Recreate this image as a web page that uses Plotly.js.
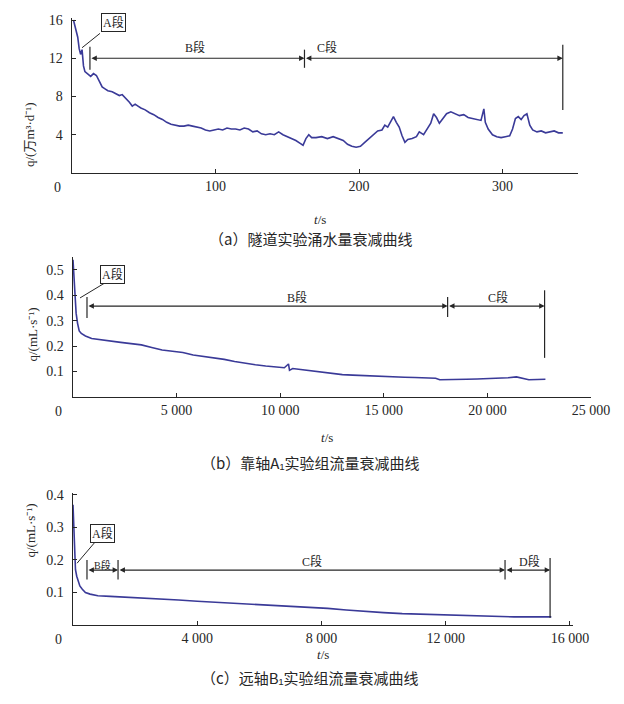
<!DOCTYPE html>
<html><head><meta charset="utf-8">
<script src="https://cdn.plot.ly/plotly-3.0.1.min.js"></script>
<style>html,body{margin:0;padding:0;background:#fff}#chart{width:624px;height:704px}</style>
</head><body><div id="chart"></div>
<script>
// ---- Panel (a): tunnel water inflow ----
const tA = [1,2,4,5,6,7,8,9,11,13,15,17,19,21,23,25,28,31,33,35,37,40,42,44,46,48,51,54,57,60,63,66,69,72,75,78,81,84,87,90,93,96,99,102,105,108,111,114,117,120,123,126,129,132,135,138,141,144,147,150,153,156,159,161,163,165,167,170,174,178,182,186,189,192,195,198,201,204,207,210,213,216,218,220,222,224,226,228,230,232,234,237,240,242,245,248,250,252,254,256,258,261,264,267,270,273,276,279,282,285,287,288,290,293,296,299,302,305,307,309,311,313,315,317,319,321,324,327,330,333,336,339,342];
const qA = [16.0,15.3,14.2,13.0,12.4,12.9,11.2,10.6,10.3,10.1,10.4,10.2,9.6,9.0,8.8,8.6,8.5,8.3,8.1,8.2,7.9,7.4,7.0,7.2,7.0,6.8,6.6,6.3,6.1,5.8,5.6,5.3,5.1,5.0,4.9,4.9,5.0,4.9,4.8,4.7,4.5,4.4,4.5,4.6,4.5,4.7,4.6,4.6,4.5,4.7,4.6,4.3,4.4,4.1,4.0,4.1,4.0,4.3,4.0,3.8,3.6,3.4,3.1,2.9,3.6,4.0,3.7,3.7,3.8,3.6,3.8,3.6,3.4,3.0,2.8,2.7,2.8,3.2,3.6,4.1,4.4,4.5,5.0,4.8,5.4,5.9,5.3,4.8,3.9,3.2,3.5,3.6,3.8,4.3,4.0,4.8,5.2,6.2,5.8,5.2,5.6,6.2,6.4,6.2,6.0,6.1,5.8,5.7,5.6,5.5,6.7,5.3,4.6,4.0,3.8,3.7,3.8,3.9,4.6,5.7,5.9,5.6,6.0,6.2,5.0,4.5,4.3,4.4,4.2,4.3,4.4,4.2,4.2];
const bA = [12.5, 162, 342];          // phase boundaries (t)
const segLabelsA = ["B段", "C段"];

// ---- Panel (b): A1 group flow ----
const tB = [0,30,60,100,150,220,300,400,600,900,1300,1800,2300,2800,3300,3800,4300,4800,5300,5800,6300,6800,7300,7800,8300,8800,9300,9800,10200,10400,10450,10600,11000,11500,12000,12500,13000,13500,14000,14500,15000,15500,16000,16500,17000,17500,17700,18000,18500,19000,19500,20000,20500,21000,21400,21700,22000,22400,22800];
const qB = [0.54,0.50,0.44,0.38,0.33,0.29,0.26,0.25,0.24,0.23,0.225,0.22,0.215,0.21,0.205,0.195,0.185,0.18,0.175,0.165,0.16,0.155,0.148,0.14,0.133,0.127,0.122,0.118,0.115,0.13,0.105,0.112,0.108,0.104,0.1,0.092,0.088,0.086,0.084,0.082,0.08,0.079,0.078,0.077,0.076,0.074,0.068,0.068,0.069,0.07,0.071,0.072,0.073,0.076,0.079,0.072,0.068,0.069,0.07];
const bB = [675, 18080, 22760];
const segLabelsB = ["B段", "C段"];

// ---- Panel (c): B1 group flow ----
const tC = [0,20,40,60,80,120,160,220,300,400,550,800,1200,1700,2200,2800,3400,4000,4600,5200,5800,6400,7000,7600,8200,8800,9400,10000,10600,11200,11800,12400,13000,13600,14200,14800,15400];
const qC = [0.37,0.30,0.24,0.20,0.17,0.15,0.135,0.12,0.11,0.10,0.095,0.09,0.088,0.086,0.084,0.08,0.077,0.073,0.07,0.068,0.065,0.062,0.059,0.055,0.051,0.046,0.041,0.038,0.035,0.033,0.031,0.029,0.027,0.026,0.025,0.025,0.025];
const bC = [450, 1450, 13910, 15360];
const segLabelsC = ["B段", "C段", "D段"];

const xTicksA = [100, 200, 300], yTicksA = [4, 8, 12, 16];
const xTicksB = [5000, 10000, 15000, 20000, 25000], yTicksB = [0.1, 0.2, 0.3, 0.4, 0.5];
const xTicksC = [4000, 8000, 12000, 16000], yTicksC = [0.1, 0.2, 0.3, 0.4];
const fmt = v => v >= 1000 ? String(v).replace(/(\d)(?=(\d{3})$)/, "$1 ") : String(v);

const captions = ["（a）隧道实验涌水量衰减曲线", "（b）靠轴A₁实验组流量衰减曲线", "（c）远轴B₁实验组流量衰减曲线"];
const yTitles = ["q/(万m³·d⁻¹)", "q/(mL·s⁻¹)", "q/(mL·s⁻¹)"];

const LINE = "#3a3a98", INK = "#262626";
const SERIF = "Liberation Serif, Noto Sans CJK SC, serif";
const CJK = "Noto Sans CJK SC, sans-serif";

function trace(x, y, xa, ya) {
  return {x, y, xaxis: xa, yaxis: ya, type: "scatter", mode: "lines",
          line: {color: LINE, width: 1.6}, hoverinfo: "skip", showlegend: false};
}
const data = [trace(tA, qA, "x", "y"), trace(tB, qB, "x2", "y2"), trace(tC, qC, "x3", "y3")];

function axis(domain, range, ticks, extra) {
  return Object.assign({
    domain, range, tickvals: ticks, ticktext: ticks.map(fmt),
    showline: true, linecolor: INK, linewidth: 1.4, mirror: false,
    ticks: "inside", ticklen: 4, tickcolor: INK, tickwidth: 1,
    showgrid: false, zeroline: false, fixedrange: true,
    tickfont: {family: SERIF, size: 14, color: INK}
  }, extra || {});
}

const layout = {
  width: 624, height: 704, margin: {l: 0, r: 0, t: 0, b: 0},
  paper_bgcolor: "#fff", plot_bgcolor: "#fff", showlegend: false,
  xaxis:  axis([72/624, 578/624], [0, 352.6], xTicksA, {anchor: "y"}),
  yaxis:  axis([1-173/704, 1-18/704], [0, 16.21], yTicksA, {anchor: "x", ticklabelstandoff: 5}),
  xaxis2: axis([73/624, 591/624], [0, 25000], xTicksB, {anchor: "y2"}),
  yaxis2: axis([1-397/704, 1-257/704], [0, 0.551], yTicksB, {anchor: "x2", ticklabelstandoff: 5}),
  xaxis3: axis([73/624, 573/624], [0, 16098], xTicksC, {anchor: "y3"}),
  yaxis3: axis([1-625/704, 1-493/704], [0, 0.406], yTicksC, {anchor: "x3", ticklabelstandoff: 5}),
  shapes: [], annotations: []
};

const S = layout.shapes, A = layout.annotations;
function vline(xr, yr, x, y0, y1) {
  S.push({type: "line", xref: xr, yref: yr, x0: x, x1: x, y0, y1, line: {color: INK, width: 1.2}});
}
function seg(xr, yr, x0, x1, y) {
  A.push({xref: xr, yref: yr, axref: xr, ayref: yr, x: x1, y, ax: x0, ay: y, text: "",
          showarrow: true, arrowside: "end+start", arrowhead: 2, arrowsize: 0.9, arrowwidth: 1.2, arrowcolor: INK});
}
function label(xr, yr, x, y, text, size) {
  A.push({xref: xr, yref: yr, x, y, text, showarrow: false, font: {family: SERIF, size: size || 12, color: INK}});
}
function boxLabel(xr, yr, x, y, text) {
  A.push({xref: xr, yref: yr, x, y, text, showarrow: false, bordercolor: INK, borderwidth: 1, borderpad: 1,
          bgcolor: "#fff", font: {family: SERIF, size: 12, color: INK}});
}
function leader(xr, yr, x0, y0, x1, y1) {
  S.push({type: "line", xref: xr, yref: yr, x0, y0, x1, y1, line: {color: INK, width: 1}});
}
function origin(xr, yr) {
  A.push({xref: xr, yref: yr, x: 0, y: 0, text: "0", showarrow: false, xanchor: "right", yanchor: "top",
          xshift: -9, yshift: -5, font: {family: SERIF, size: 14, color: INK}});
}

// Panel (a) annotations
origin("x", "y");
boxLabel("x", "y", 29, 15.7, "A段");
leader("x", "y", 7, 13.1, 19.5, 14.6);
vline("x", "y", bA[0], 10.8, 13.2);
vline("x", "y", bA[1], 11.0, 12.9);
vline("x", "y", bA[2], 6.6, 13.4);
seg("x", "y", bA[0], bA[1], 12.0);
seg("x", "y", bA[1], bA[2], 12.0);
label("x", "y", 86, 13.1, segLabelsA[0]);
label("x", "y", 178, 13.1, segLabelsA[1]);

// Panel (b) annotations
origin("x2", "y2");
boxLabel("x2", "y2", 1929, 0.484, "A段");
leader("x2", "y2", 340, 0.39, 1540, 0.449);
vline("x2", "y2", bB[0], 0.311, 0.394);
vline("x2", "y2", bB[1], 0.315, 0.394);
vline("x2", "y2", bB[2], 0.154, 0.42);
seg("x2", "y2", bB[0], bB[1], 0.358);
seg("x2", "y2", bB[1], bB[2], 0.358);
label("x2", "y2", 10800, 0.39, segLabelsB[0]);
label("x2", "y2", 20490, 0.39, segLabelsB[1]);

// Panel (c) annotations
origin("x3", "y3");
boxLabel("x3", "y3", 950, 0.282, "A段");
leader("x3", "y3", 130, 0.19, 710, 0.255);
vline("x3", "y3", bC[0], 0.14, 0.2);
vline("x3", "y3", bC[1], 0.14, 0.2);
vline("x3", "y3", bC[2], 0.14, 0.2);
vline("x3", "y3", bC[3], 0.022, 0.206);
seg("x3", "y3", bC[0], bC[1], 0.169);
seg("x3", "y3", bC[1], bC[2], 0.169);
seg("x3", "y3", bC[2], bC[3], 0.169);
label("x3", "y3", 950, 0.186, segLabelsC[0], 10);
label("x3", "y3", 7690, 0.194, segLabelsC[1]);
label("x3", "y3", 14710, 0.194, segLabelsC[2]);

// Axis titles and captions (paper)
const xTitlePos = [[320, 210], [327, 437], [323, 664]];
const yTitlePos = [[20, 100], [22, 335], [20, 560]];
const capPos = [[310, 238], [310, 462], [310, 690]];
for (let i = 0; i < 3; i++) {
  A.push({xref: "paper", yref: "paper", x: xTitlePos[i][0]/624, y: 1 - xTitlePos[i][1]/704, text: "<i>t</i>/s",
          showarrow: false, font: {family: SERIF, size: 13, color: INK}});
  A.push({xref: "paper", yref: "paper", x: yTitlePos[i][0]/624, y: 1 - yTitlePos[i][1]/704, text: yTitles[i],
          textangle: -90, showarrow: false, font: {family: SERIF, size: 13, color: INK}});
  A.push({xref: "paper", yref: "paper", x: capPos[i][0]/624, y: 1 - capPos[i][1]/704, text: captions[i],
          showarrow: false, font: {family: CJK, size: 15, color: INK}});
}

Plotly.newPlot("chart", data, layout, {staticPlot: true, displayModeBar: false});
</script></body></html>
